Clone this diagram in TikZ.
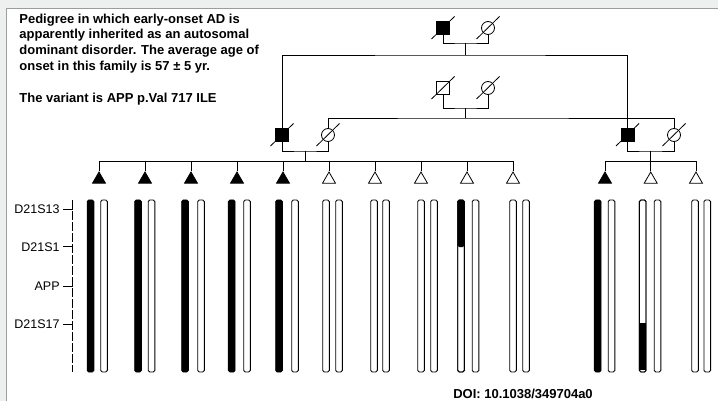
\documentclass[tikz,border=0pt]{standalone}
\usepackage{fontspec}
\setmainfont{Liberation Sans}
\usetikzlibrary{shapes.geometric}

\definecolor{panel}{HTML}{EEF0EF}
\definecolor{rim}{HTML}{9C9C9C}

\begin{document}
\begin{tikzpicture}[x=1pt, y=-1pt, line width=0.8pt,
  male/.style={draw, rectangle, minimum size=13pt, inner sep=0pt},
  female/.style={draw, circle, minimum size=13pt, inner sep=0pt},
  kid/.style={draw, regular polygon, regular polygon sides=3, minimum size=15pt, inner sep=0pt},
  chrom/.style={draw, line width=0.9pt, rounded corners=1.5pt},
  locus/.style={anchor=east, inner sep=0pt, font=\fontsize{12.5}{14}\selectfont}]

\useasboundingbox (0,0) rectangle (718,401);
\fill[panel] (0,0) rectangle (718,401);
\fill[white] (6,8.5) rectangle (718,401);
\draw[rim, line width=1pt] (6,401) -- (6,8.5) -- (718,8.5);

\node[anchor=north west, align=left, inner sep=0pt, font=\bfseries\fontsize{13}{15.8}\selectfont] (title) at (19,13.3)
{Pedigree in which early-onset AD is\\
apparently inherited as an autosomal\\
dominant disorder. The average age of\\
onset in this family is 57 ± 5 yr.\\[15.8pt]
The variant is APP p.Val 717 ILE};

\draw[solid]
(443,28) node[male, fill=black] (GF) {}
(488,28) node[female] (GM) {}
(443,88) node[male] (MF) {}
(488,88) node[female] (MM) {}
(282,135) node[male, fill=black] (LF) {}
(328,135) node[female] (LM) {}
(627.5,135) node[male, fill=black] (RF) {}
(674,135) node[female] (RM) {};

% junctions
\coordinate (gm) at (465.5,43);
\coordinate (gs) at (465.5,55);
\coordinate (mm) at (465.5,108);
\coordinate (ms) at (465.5,118);
\coordinate (lm) at (305,151);
\coordinate (ls) at (305,161);
\coordinate (rm) at (650.7,151);
\coordinate (rs) at (650.7,161);

\foreach \i in {1,...,5} \node[kid, fill=black] (c\i) at ({99+46*(\i-1)},179.5) {};
\foreach \i in {6,...,10} \node[kid] (c\i) at ({99+46*(\i-1)},179.5) {};
\node[kid, fill=black] (r1) at (605,179.5) {};
\node[kid] (r2) at (650.7,179.5) {};
\node[kid] (r3) at (696,179.5) {};

\draw (GF.south) |- (gm) -| (GM.south);
\draw (gm) -- (gs);
\draw (LF.north) |- (gs) -| (RF.north);
\draw (MF.south) |- (mm) -| (MM.south);
\draw (mm) -- (ms);
\draw (LM.north) |- (ms) -| (RM.north);
\draw (LF.south) |- (lm) -| (LM.south);
\draw (lm) -- (ls);
\foreach \i in {1,...,10} \draw (ls) -| (c\i.corner 1);
\draw (RF.south) |- (rm) -| (RM.south);
\draw (rm) -- (rs);
\foreach \i in {1,2,3} \draw (rs) -| (r\i.corner 1);

% deceased
\foreach \n in {GF,GM,MF,MM,LF,LM,RF,RM}
  \draw ([shift={(-11.5,11)}]\n.center) -- ([shift={(11.5,-11.5)}]\n.center);

% haplotypes
\foreach \a/\b in {90.5/104, 138/151.5, 185/201, 231.7/247, 279/295, 597.7/611.5} {
  \draw[chrom, fill=black] (\a-3.3,200) rectangle (\a+3.3,372);
  \draw[chrom] (\b-3.3,200) rectangle (\b+3.3,372);
}
\foreach \a/\b in {326/339, 374/386, 421/434, 461/475.5, 513/526, 642.7/657.5, 695/707.3} {
  \draw[chrom] (\a-3.3,200) rectangle (\a+3.3,372);
  \draw[chrom] (\b-3.3,200) rectangle (\b+3.3,372);
}
\fill[rounded corners=1.5pt] (461-3.3,200) rectangle (461+3.3,247);
\fill (642.7-3.3,323) rectangle (642.7+3.3,370);
\draw[chrom] (461-3.3,200) rectangle (461+3.3,372);
\draw[chrom] (642.7-3.3,200) rectangle (642.7+3.3,372);

% markers
\draw[dash pattern=on 9pt off 2pt, line width=0.6pt] (72.7,200) coordinate (axtop) -- (72.7,372);
\foreach \y/\t/\n in {209.3/D21S13/m1, 246.7/D21S1/m2, 286/APP/m3, 324/D21S17/m4} {
  \node[locus] (\n) at (60,\y) {\t};
  \draw[line width=0.7pt] ([xshift=3pt]\n.east) -- (axtop |- \n.east);
}

\node[anchor=base, font=\bfseries\fontsize{13}{15}\selectfont] (doi) at (523,398) {DOI: 10.1038/349704a0};
\end{tikzpicture}
\end{document}
